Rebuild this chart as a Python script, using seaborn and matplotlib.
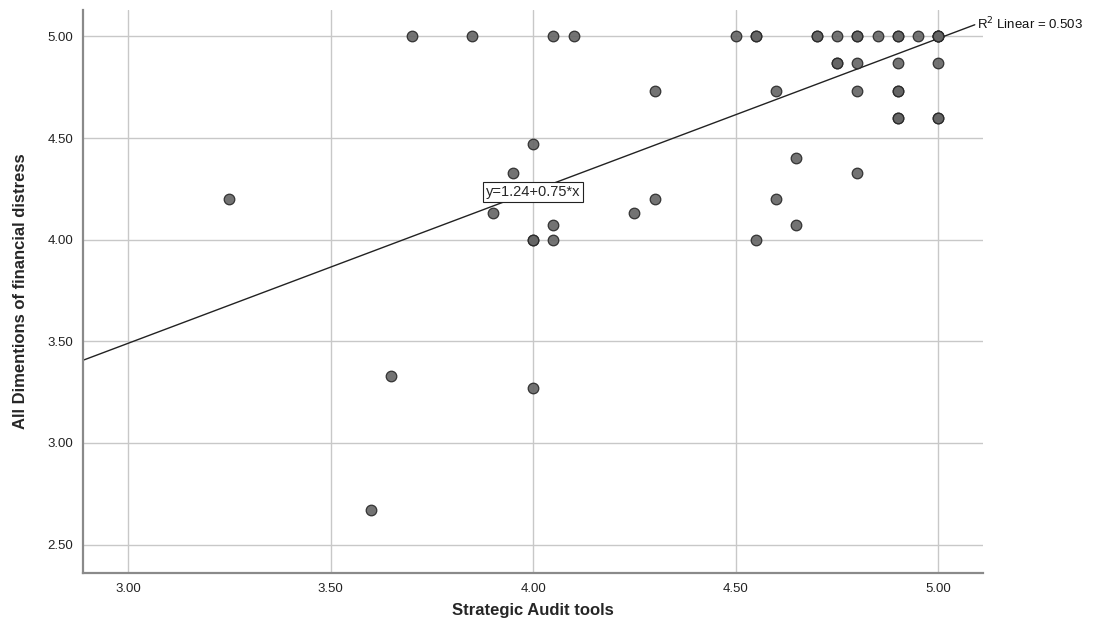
import numpy as np
import pandas as pd
import matplotlib
matplotlib.use("Agg")
import matplotlib.pyplot as plt
import seaborn as sns

# points (repeats where markers overlap and look darker)
audit_tools = [
    3.25, 3.60, 3.65, 3.70, 3.85, 3.90, 3.95,
    4.00, 4.00, 4.00, 4.00, 4.05, 4.05, 4.05, 4.10,
    4.25, 4.30, 4.30, 4.50, 4.55, 4.55, 4.55,
    4.60, 4.60, 4.65, 4.65, 4.70, 4.70,
    4.75, 4.75, 4.75, 4.80, 4.80, 4.80, 4.80, 4.80,
    4.85, 4.90, 4.90, 4.90, 4.90, 4.90, 4.90, 4.90,
    4.95, 5.00, 5.00, 5.00, 5.00, 5.00, 5.00, 5.00,
]
financial_distress = [
    4.20, 2.67, 3.33, 5.00, 5.00, 4.13, 4.33,
    4.47, 4.00, 4.00, 3.27, 4.07, 4.00, 5.00, 5.00,
    4.13, 4.73, 4.20, 5.00, 5.00, 5.00, 4.00,
    4.73, 4.20, 4.40, 4.07, 5.00, 5.00,
    5.00, 4.87, 4.87, 5.00, 5.00, 4.87, 4.73, 4.33,
    5.00, 5.00, 5.00, 4.87, 4.73, 4.73, 4.60, 4.60,
    5.00, 5.00, 5.00, 5.00, 5.00, 4.87, 4.60, 4.60,
]

intercept = 1.24
slope = 0.75
r_squared = 0.503

x_ticks = [3.00, 3.50, 4.00, 4.50, 5.00]
y_ticks = [2.50, 3.00, 3.50, 4.00, 4.50, 5.00]
x_lim = (2.889, 5.11)
y_lim = (2.36, 5.13)

df = pd.DataFrame({"audit": audit_tools, "distress": financial_distress})

sns.set_style("white")
plt.rcParams["font.family"] = ["Liberation Sans", "DejaVu Sans"]

fig = plt.figure(figsize=(11, 6.39), dpi=100)
ax = fig.add_axes([0.0755, 0.1033, 0.818, 0.881])

ax.set_xlim(*x_lim)
ax.set_ylim(*y_lim)
ax.set_xticks(x_ticks)
ax.set_yticks(y_ticks)
ax.set_xticklabels([f"{t:.2f}" for t in x_ticks], fontsize=9.5, color="#222")
ax.set_yticklabels([f"{t:.2f}" for t in y_ticks], fontsize=9.5, color="#222")
ax.tick_params(length=0, pad=7)
ax.grid(True, color="#c8c8c8", linewidth=1.0)
ax.set_axisbelow(True)

for side in ["top", "right"]:
    ax.spines[side].set_visible(False)
for side in ["left", "bottom"]:
    ax.spines[side].set_color("#8a8a8a")
    ax.spines[side].set_linewidth(1.6)

# fit line from the printed equation
x0, x1 = x_lim[0], 5.09
ax.plot([x0, x1], [intercept + slope * x0, intercept + slope * x1],
        color="#222", linewidth=1.0, zorder=2, clip_on=False)

sns.scatterplot(data=df, x="audit", y="distress", ax=ax, s=58,
                color="#646464", edgecolor="#262626", linewidth=0.9,
                alpha=0.9, zorder=3)

ax.text(4.00, 4.235, f"y={intercept:.2f}+{slope:.2f}*x", fontsize=10.5,
        ha="center", va="center", zorder=4,
        bbox=dict(boxstyle="square,pad=0.2", facecolor="white",
                  edgecolor="#222", linewidth=0.8))

fig.text(0.888, 0.963, f"R$^2$ Linear = {r_squared:.3f}", fontsize=9.5,
         ha="left", va="center", color="#111")

ax.set_xlabel("Strategic Audit tools", fontsize=12, fontweight="bold", labelpad=6)
ax.set_ylabel("All Dimentions of financial distress", fontsize=12,
              fontweight="bold", labelpad=14)

fig.savefig("out.png", dpi=100)
